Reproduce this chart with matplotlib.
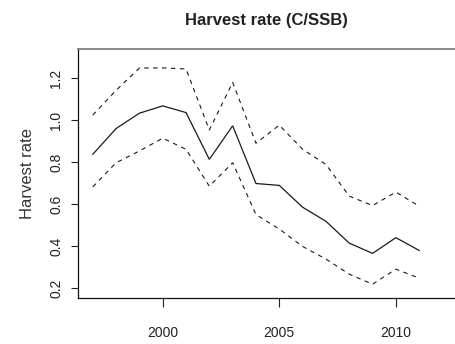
import matplotlib
matplotlib.use("Agg")
import matplotlib.pyplot as plt

years = [1997, 1998, 1999, 2000, 2001, 2002, 2003, 2004, 2005, 2006, 2007, 2008, 2009, 2010, 2011]
harvest = [0.838, 0.961, 1.034, 1.069, 1.037, 0.814, 0.974, 0.699, 0.690, 0.586, 0.519, 0.415, 0.366, 0.441, 0.380]
upper = [1.025, 1.143, 1.249, 1.250, 1.245, 0.954, 1.181, 0.891, 0.977, 0.862, 0.790, 0.639, 0.594, 0.658, 0.591]
lower = [0.683, 0.798, 0.854, 0.915, 0.862, 0.686, 0.798, 0.551, 0.482, 0.399, 0.339, 0.267, 0.219, 0.291, 0.248]
xticks = [2000, 2005, 2010]
yticks = [0.2, 0.4, 0.6, 0.8, 1.0, 1.2]
ytick_labels = ["0.2", "0.4", "0.6", "0.8", "1.0", "1.2"]

plt.rcParams['font.family'] = ['Liberation Sans', 'DejaVu Sans']
W, H = 456, 344
fig = plt.figure(figsize=(W / 100, H / 100), dpi=100)
left, right, top, bottom = 78.3, 456.5, 49.0, 298.3
ax = fig.add_axes([left / W, 1 - bottom / H, (right - left) / W, (bottom - top) / H])

txt = '#222222'
ax.plot(years, harvest, color='#1a1a1a', lw=0.9, solid_joinstyle='miter')
ax.plot(years, upper, color='#1a1a1a', lw=0.8, linestyle=(0, (4, 4)))
ax.plot(years, lower, color='#1a1a1a', lw=0.8, linestyle=(0, (4, 4)))

ax.set_xlim(1996.38, 2012.6)
ax.set_ylim(0.152, 1.34)
ax.set_xticks(xticks)
ax.set_xticklabels([str(x) for x in xticks])
ax.set_yticks(yticks)
ax.set_yticklabels(ytick_labels, rotation=90, va='center')

ax.tick_params(axis='y', length=5.0, width=0.8, pad=6, labelsize=10, colors=txt, direction='out')
ax.tick_params(axis='x', length=6.8, width=0.8, pad=13, labelsize=10, colors=txt, direction='out')
for s in ['left', 'bottom']:
    ax.spines[s].set_color('#111111')
    ax.spines[s].set_linewidth(0.9)
ax.spines['top'].set_color('#777777')
ax.spines['top'].set_linewidth(1.2)
ax.spines['right'].set_visible(False)

ax.set_ylabel('Harvest rate', fontsize=12, color='#333333', labelpad=10)
fig.text(266.7 / W, 1 - 21 / H, 'Harvest rate (C/SSB)', ha='center', va='center',
         fontsize=12, fontweight='bold', color=txt)

fig.savefig('out.png', dpi=100, facecolor='white')
